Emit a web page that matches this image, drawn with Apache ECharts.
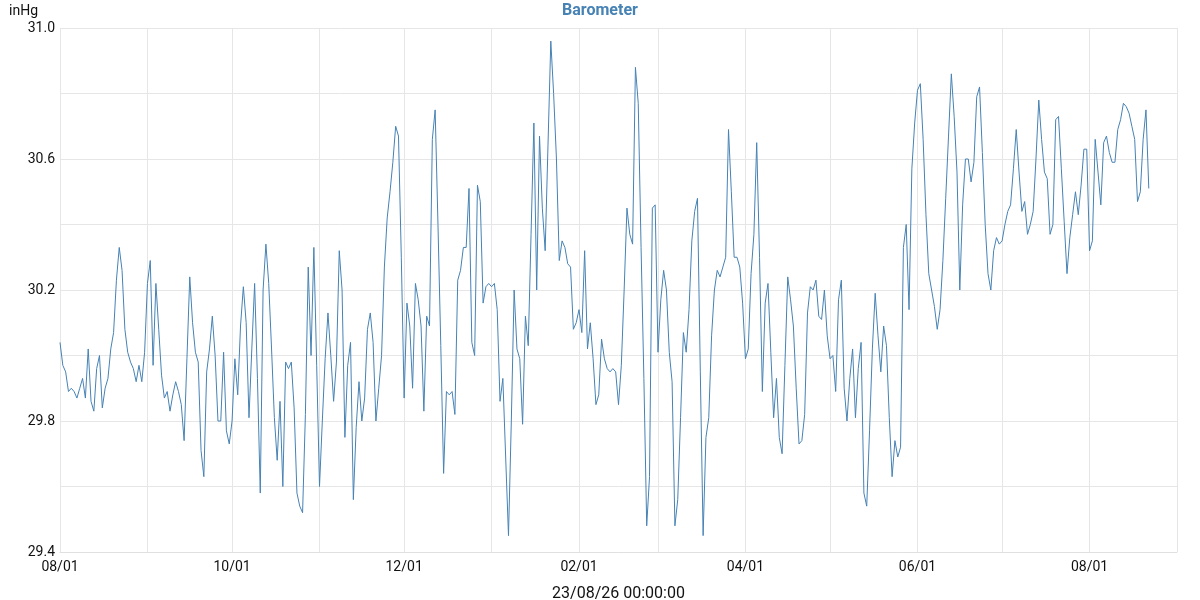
<!DOCTYPE html>
<html>
<head>
<meta charset="utf-8">
<script src="https://cdn.jsdelivr.net/npm/echarts@6/dist/echarts.min.js"></script>
<style>
  html, body { margin: 0; padding: 0; background: #fff; }
  #container { width: 1200px; height: 600px; }
</style>
</head>
<body>
<div id="container"></div>
<script>
// daily readings, starting 2022-08-01
const startDate = '2022-08-01';
const endDate = '2023-09-01';
const pressure = [
    30.04, 29.97, 29.95, 29.89, 29.90, 29.89, 29.87, 29.90, 29.93, 29.87,
    30.02, 29.86, 29.83, 29.96, 30.00, 29.84, 29.90, 29.93, 30.02, 30.07,
    30.23, 30.33, 30.26, 30.08, 30.01, 29.98, 29.96, 29.92, 29.97, 29.92,
    30.01, 30.22, 30.29, 29.97, 30.22, 30.08, 29.94,
    29.87, 29.89, 29.83, 29.88, 29.92, 29.89, 29.85, 29.74, 29.99, 30.24,
    30.10, 30.01, 29.98, 29.71, 29.63, 29.95, 30.02, 30.12, 30.00, 29.80,
    29.80, 30.01, 29.77, 29.73, 29.80, 29.99, 29.88, 30.09, 30.21, 30.10,
    29.81, 30.02, 30.22, 29.93, 29.58, 30.20, 30.34, 30.22, 30.02, 29.81,
    29.68,
    29.86, 29.60, 29.98, 29.96, 29.98, 29.84, 29.58, 29.54, 29.52, 29.82,
    30.27, 30.00, 30.33, 29.97, 29.60, 29.80, 29.99, 30.13, 30.00, 29.86,
    29.98, 30.32, 30.20, 29.75, 29.97, 30.04, 29.56, 29.78, 29.92, 29.80,
    29.87, 30.08, 30.13, 30.04, 29.80, 29.90, 30.00, 30.27, 30.42, 30.50,
    30.59, 30.70, 30.67, 30.30, 29.87, 30.16, 30.09, 29.90, 30.22, 30.17,
    30.09, 29.83, 30.12, 30.09, 30.66, 30.75, 30.40, 30.03, 29.64, 29.89,
    29.88, 29.89, 29.82, 30.23, 30.26, 30.33, 30.33, 30.51, 30.04, 30.00,
    30.52, 30.47, 30.16, 30.21, 30.22, 30.21, 30.22, 30.14, 29.86, 29.93,
    29.69,
    29.45, 29.80, 30.20, 30.02, 29.99, 29.79, 30.12, 30.03, 30.37, 30.71,
    30.20, 30.67, 30.45, 30.32, 30.64, 30.96, 30.80, 30.60, 30.29, 30.35,
    30.33, 30.28, 30.27, 30.08, 30.10, 30.14, 30.07, 30.32, 30.02, 30.10,
    29.99, 29.85, 29.88, 30.05, 29.99, 29.96, 29.95, 29.96, 29.95, 29.85,
    29.97,
    30.20, 30.45, 30.37, 30.34, 30.88, 30.77, 30.33, 29.93, 29.48, 29.63,
    30.45, 30.46, 30.01, 30.17, 30.26, 30.20, 30.01, 29.92, 29.48, 29.56,
    29.81, 30.07, 30.01, 30.14, 30.35, 30.44, 30.48, 29.95, 29.45, 29.75,
    29.81, 30.06, 30.20, 30.26, 30.24, 30.27, 30.30, 30.69, 30.50, 30.30,
    30.30, 30.27, 30.16, 29.99, 30.02, 30.25, 30.37, 30.65, 30.30, 29.89,
    30.16, 30.22, 30.01, 29.81, 29.93, 29.75, 29.70, 29.97, 30.24, 30.17,
    30.09, 29.90, 29.73, 29.74, 29.82, 30.13, 30.21, 30.20, 30.23, 30.12,
    30.11, 30.20, 30.06, 29.99, 30.00, 29.89, 30.17, 30.23, 29.90, 29.80,
    29.93,
    30.02, 29.81, 29.96, 30.04, 29.58, 29.54, 29.77, 30.02, 30.19, 30.06,
    29.95, 30.09, 30.03, 29.81, 29.63, 29.74, 29.69, 29.72, 30.33, 30.40,
    30.14, 30.57, 30.71, 30.81, 30.83, 30.66, 30.43, 30.25, 30.20, 30.15,
    30.08, 30.14, 30.29, 30.48, 30.67, 30.86, 30.73, 30.56, 30.20, 30.46,
    30.60,
    30.60, 30.53, 30.59, 30.79, 30.82, 30.62, 30.40, 30.25, 30.20, 30.32,
    30.36, 30.34, 30.35, 30.40, 30.44, 30.46, 30.57, 30.69, 30.56, 30.44,
    30.47, 30.37, 30.40, 30.44, 30.60, 30.78, 30.66, 30.56, 30.54, 30.37,
    30.40, 30.72, 30.73, 30.57, 30.41, 30.25, 30.36, 30.43, 30.50, 30.43,
    30.52,
    30.63, 30.63, 30.32, 30.35, 30.66, 30.56, 30.46, 30.65, 30.67, 30.62,
    30.59, 30.59, 30.69, 30.72, 30.77, 30.76, 30.74, 30.70, 30.66, 30.47,
    30.50, 30.66, 30.75, 30.51
];
const yMin = 29.4;
const yMax = 31.0;
const yStep = 0.2;

// one category per day from start to end
const getDays = (from, to) => {
    let days = [];
    let d = new Date(from + 'T00:00:00Z');
    const last = new Date(to + 'T00:00:00Z');
    while (d <= last) {
        days.push(d.toISOString().slice(0, 10));
        d = new Date(d.getTime() + 86400000);
    }
    return days;
}
const days = getDays(startDate, endDate);

const isMonthStart = (v) => v.slice(8) === '01';
const isLabelMonth = (v) => isMonthStart(v) && Number(v.slice(5, 7)) % 2 === 0;

const font = 'Roboto, "Noto Sans", sans-serif';
const lineColor = '#4682b4';

var dom = document.getElementById('container');
var myChart = echarts.init(dom, null, { renderer: 'canvas' });

myChart.setOption({
    animation: false,
    title: {
        text: 'Barometer',
        left: 'center',
        top: -2,
        textStyle: { color: lineColor, fontSize: 16, fontWeight: 'bold', fontFamily: font }
    },
    // keep the plot box fixed, labels may sit outside it
    grid: { left: 60, right: 23, top: 28, bottom: 48, outerBoundsMode: 'none' },
    xAxis: {
        type: 'category',
        data: days,
        boundaryGap: false,
        name: '23/08/26 00:00:00',
        nameLocation: 'middle',
        nameGap: 34,
        nameTextStyle: { color: '#111', fontSize: 16, fontFamily: font },
        axisLine: { show: true, lineStyle: { color: '#e0e0e0' } },
        axisTick: { show: false },
        axisLabel: {
            interval: (i, v) => isLabelMonth(v),
            formatter: (v) => v.slice(5, 7) + '/' + v.slice(8),
            color: '#111',
            fontSize: 14,
            fontFamily: font,
            margin: 8
        },
        splitLine: {
            show: true,
            interval: (i, v) => isMonthStart(v),
            lineStyle: { color: '#e6e6e6' }
        }
    },
    yAxis: {
        type: 'value',
        min: yMin,
        max: yMax,
        interval: yStep,
        name: 'inHg',
        nameGap: 10,
        nameTextStyle: { color: '#111', fontSize: 14, fontFamily: font, align: 'right', padding: [0, 22, 0, 0] },
        axisLine: { show: false },
        axisTick: { show: false },
        axisLabel: {
            formatter: (v) => (Math.round(v * 10) % 4 === 2 ? v.toFixed(1) : ''),
            color: '#111',
            fontSize: 14,
            fontFamily: font,
            margin: 5
        },
        splitLine: { lineStyle: { color: '#e6e6e6' } }
    },
    series: [
        {
            name: 'Barometer',
            type: 'line',
            data: pressure,
            showSymbol: false,
            lineStyle: { color: lineColor, width: 1 },
            itemStyle: { color: lineColor }
        }
    ]
});
</script>
</body>
</html>
